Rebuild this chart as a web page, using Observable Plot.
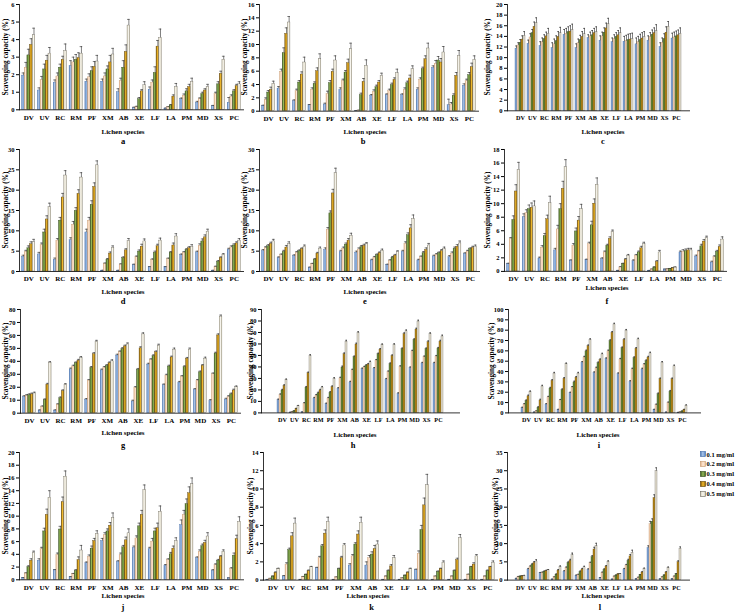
<!DOCTYPE html>
<html><head><meta charset="utf-8">
<script src="https://cdn.jsdelivr.net/npm/d3@7"></script>
<script src="https://cdn.jsdelivr.net/npm/@observablehq/plot@0.6"></script>
<style>
body{margin:0;background:#fff;}
#root{position:relative;width:737px;height:612px;overflow:hidden;font-family:"Liberation Serif","Times New Roman",serif;font-weight:bold;color:#000;background:#fff;}
.panel{position:absolute;}
.panel svg{overflow:visible;background:transparent;}
.xl{position:absolute;font-size:7px;transform:translate(-50%,-50%);white-space:nowrap;}
.yl{position:absolute;font-size:7.3px;transform:translate(-50%,-50%) rotate(-90deg);white-space:nowrap;}
.lt{position:absolute;font-size:8.5px;transform:translate(-50%,-50%);}
.leg{position:absolute;left:700px;top:449.5px;font-size:6.5px;line-height:9.8px;}
.leg div{display:flex;align-items:center;white-space:nowrap;}
.leg svg{margin-right:0.5px;}
</style></head><body>
<svg width="0" height="0" style="position:absolute"><defs>
<linearGradient id="g01" x1="0" x2="1" y1="0" y2="0"><stop offset="0" stop-color="#4a78b5"/><stop offset="0.45" stop-color="#abc6ea"/><stop offset="1" stop-color="#4f7fc0"/></linearGradient>
<linearGradient id="g02" x1="0" x2="1" y1="0" y2="0"><stop offset="0" stop-color="#e2ae84"/><stop offset="0.5" stop-color="#fde9d6"/><stop offset="1" stop-color="#eac09c"/></linearGradient>
<linearGradient id="g03" x1="0" x2="1" y1="0" y2="0"><stop offset="0" stop-color="#3a5a1a"/><stop offset="0.5" stop-color="#94b85a"/><stop offset="1" stop-color="#3a5a1a"/></linearGradient>
<linearGradient id="g04" x1="0" x2="1" y1="0" y2="0"><stop offset="0" stop-color="#7a5200"/><stop offset="0.5" stop-color="#f2bb2e"/><stop offset="1" stop-color="#8a5e00"/></linearGradient>
<linearGradient id="g05" x1="0" x2="1" y1="0" y2="0"><stop offset="0" stop-color="#d6d0ba"/><stop offset="0.5" stop-color="#f8f6ef"/><stop offset="1" stop-color="#d0c9b2"/></linearGradient>
</defs></svg>
<div id="root"></div>
<script>
const species = ["DV","UV","RC","RM","PF","XM","AB","XE","LF","LA","PM","MD","XS","PC"];
const concentrations = ["0.1 mg/ml","0.2 mg/ml","0.3 mg/ml","0.4 mg/ml","0.5 mg/ml"];
const panelLetters = ["a","b","c","d","e","f","g","h","i","j","k","l"];
const yMaxima = [6,16,20,30,30,18,80,90,100,20,14,35];
const yTickSteps = [1,2,2,5,5,2,10,10,10,2,2,5];

// panel a
const a1=[1.95,1.1,1.55,2.5,1.6,1.6,1.0,0.1,1.15,0.07,0.6,0.4,0.2,0.4];
const a2=[2.4,1.7,1.9,2.7,1.85,1.9,1.65,0.15,1.55,0.15,0.8,0.6,0.9,0.75];
const a3=[3.1,2.3,2.4,2.85,2.2,2.3,2.4,0.6,2.1,0.25,1.05,0.9,1.45,1.05];
const a4=[3.7,2.8,2.85,2.95,2.45,2.7,3.3,1.05,3.6,0.75,1.3,1.1,2.05,1.35];
const a5=[4.25,3.2,3.35,3.2,2.75,3.15,4.8,1.4,4.1,1.3,1.6,1.3,2.85,1.45];
const aE1=[.15,.15,.15,.3,.15,.15,.2,.05,.15,.03,.07,.08,.05,.3];
const aE2=[.3,.2,.2,.3,.2,.2,.15,.05,.15,.03,.1,.08,.1,.1];
const aE3=[.35,.3,.2,.3,.25,.2,.4,.1,.35,.05,.15,.1,.15,.1];
const aE4=[.35,.3,.2,.3,.3,.4,.4,.1,.35,.1,.15,.1,.15,.1];
const aE5=[.4,.35,.4,.4,.35,.35,.35,.2,.5,.2,.2,.15,.2,.15];
// panel b
const b1=[0.8,3.4,1.5,0.9,1.0,3.2,0.05,2.3,2.4,2.4,3.2,6.5,0.9,3.8];
const b2=[1.7,5.9,3.0,3.2,2.6,4.5,0.1,2.9,3.0,3.2,4.7,7.1,1.0,4.5];
const b3=[2.8,8.7,4.3,4.1,4.2,5.8,2.4,3.6,3.9,4.2,6.3,7.6,2.3,5.4];
const b4=[3.2,11.6,5.5,6.0,5.9,7.2,4.4,4.3,4.7,4.9,7.8,7.3,5.3,6.6];
const b5=[4.1,13.3,7.3,7.8,7.6,9.3,6.8,5.3,5.7,6.3,9.4,8.8,8.3,7.7];
const bE1=[.1,.3,.2,.1,.2,.3,.05,.2,.2,.2,.3,.3,.9,.3];
const bE2=[.3,.4,.3,.3,.4,.3,.05,.3,.3,.3,.3,.5,.3,.3];
const bE3=[.3,.8,.3,.3,.4,.3,.3,.3,.3,.3,.3,.6,.3,.4];
const bE4=[.4,.9,.4,.5,.4,.6,.5,.3,.3,.5,.5,.6,.5,.6];
const bE5=[.4,.9,.8,.8,.7,.9,.9,.4,.6,.5,.8,.9,.8,.6];
// panel c
const c1=[11.7,12.6,12.2,11.8,14.3,11.8,13.7,13.2,12.9,13.0,12.5,13.2,12.0,13.6];
const c2=[12.3,13.8,12.9,12.5,14.5,12.7,14.0,14.0,13.5,13.1,12.9,13.9,12.8,13.8];
const c3=[12.8,14.6,13.5,13.1,14.8,13.3,14.2,14.7,13.9,13.3,13.3,14.3,13.5,14.0];
const c4=[13.4,15.8,14.0,13.9,14.9,13.9,14.6,15.5,14.2,13.4,13.6,14.6,14.7,14.2];
const c5=[14.1,16.5,14.5,14.6,15.2,14.4,14.8,16.3,14.6,13.5,13.9,15.0,15.8,14.5];
const cE1=[.5,.7,.8,1,1,.8,.6,.9,.8,1,1.2,.9,.8,1];
const cE2=[.5,.7,.8,1,1,.8,.8,.8,.8,1.1,1.1,.8,.9,1];
const cE3=[.6,.7,.8,1,1,.9,.9,.9,.8,1.1,1.1,.9,1,1];
const cE4=[.7,.9,.8,1,1.1,1,.9,1,.9,1.1,1.1,1,1.1,1];
const cE5=[.8,1,1,1.1,1.1,1.1,1,1.1,1,1.1,1,1.2,1,1.1];
// panel d
const d1=[3.6,4.2,2.9,7.7,9.6,0.2,0.2,1.6,1.1,1.1,4.0,4.7,0.2,5.3];
const d2=[4.8,6.5,7.6,11.5,12.5,1.9,1.7,3.5,2.8,3.0,4.6,6.3,1.1,5.9];
const d3=[5.7,9.6,12.5,14.9,16.4,2.9,3.3,4.9,4.6,4.6,5.3,7.4,2.4,6.4];
const d4=[6.7,12.8,18.2,19.1,20.8,4.4,5.2,6.1,6.2,6.4,5.7,8.4,3.3,6.9];
const d5=[7.2,15.8,23.6,23.1,26.1,5.8,7.5,7.4,7.6,8.6,6.1,9.8,4.1,7.6];
const dE1=[.4,.5,.4,.6,.8,.1,.1,.2,.1,.1,.3,.3,.1,.4];
const dE2=[.4,.5,.5,.8,.8,.2,.2,.3,.3,.3,.3,.5,.2,.4];
const dE3=[.6,.8,.8,.8,1,.3,.3,.4,.4,.3,.3,.6,.3,.4];
const dE4=[.6,.9,1,1,1,.4,.4,.6,.5,.6,.4,.6,.3,.4];
const dE5=[.7,1,1.2,1.2,1.1,.5,.6,.6,.6,.7,.5,.6,.3,.5];
// panel e
const e1=[5.0,3.3,3.8,0.9,5.3,4.8,4.6,2.7,1.6,4.8,2.7,3.7,3.5,4.3];
const e2=[5.7,4.0,4.6,1.8,10.3,5.6,5.4,3.4,2.6,6.8,3.5,4.1,4.4,4.9];
const e3=[6.2,4.8,5.0,2.9,14.3,6.6,6.0,4.0,3.4,8.9,4.5,4.5,5.6,5.5];
const e4=[6.8,5.9,5.5,4.4,19.2,7.6,6.3,4.5,3.9,10.6,5.3,5.0,6.1,5.8];
const e5=[7.4,6.7,6.1,5.6,24.2,8.8,6.7,5.1,4.8,12.9,6.4,5.5,6.9,6.1];
const eE1=[.4,.3,.3,.2,.5,.4,.4,.3,.2,.4,.3,.3,.4,.3];
const eE2=[.4,.3,.3,.2,.5,.4,.4,.3,.3,.5,.3,.3,.4,.3];
const eE3=[.4,.4,.3,.3,.6,.4,.4,.3,.3,.6,.4,.3,.4,.3];
const eE4=[.4,.5,.3,.3,1,.5,.4,.3,.3,.9,.5,.4,.5,.4];
const eE5=[.5,.6,.4,.4,1.2,.6,.4,.4,.3,1,.5,.5,.6,.4];
// panel f
const f1=[1.1,8.0,1.9,3.1,1.6,1.7,1.8,0.1,1.5,0.1,0.3,2.8,2.2,1.3];
const f2=[4.8,8.6,3.5,6.2,3.8,4.0,2.8,0.6,2.3,0.3,0.35,2.9,2.9,2.1];
const f3=[7.6,9.2,5.2,9.2,5.9,6.8,3.8,1.1,2.8,0.6,0.4,3.0,3.7,2.9];
const f4=[11.8,9.4,7.7,12.2,7.5,10.0,4.8,1.7,3.4,1.4,0.5,3.1,4.4,3.6];
const f5=[15.0,9.6,10.1,15.4,9.2,12.8,5.8,2.3,4.0,2.8,0.6,3.1,4.9,4.7];
const fE1=[.1,.5,.2,.3,.1,.1,.2,.05,.2,.05,.03,.2,.2,.2];
const fE2=[.2,.5,.3,.6,.3,.3,.2,.1,.2,.05,.03,.3,.2,.2];
const fE3=[.6,.6,.4,.8,.5,.6,.2,.1,.2,.05,.03,.3,.3,.2];
const fE4=[1,.7,.6,1.1,.6,.7,.3,.2,.3,.2,.05,.3,.3,.3];
const fE5=[1.1,.8,1,1.1,.7,1,.3,.2,.3,.3,.05,.3,.3,.4];
// panel g
const g1=[12.5,2.0,2.0,33.8,10.3,33.0,44.5,9.0,37.5,21.5,23.5,18.0,9.5,10.5];
const g2=[13.3,4.8,6.5,36.0,25.0,35.0,47.0,19.5,41.0,29.0,28.0,25.0,30.0,12.5];
const g3=[13.9,10.0,11.5,38.5,35.0,36.5,49.5,33.5,44.0,36.0,35.5,31.5,46.0,14.5];
const g4=[14.5,22.0,17.0,40.5,45.5,38.5,51.5,50.0,47.0,43.0,42.0,36.5,60.0,17.5];
const g5=[15.2,38.8,21.8,42.5,55.0,40.0,53.0,60.8,52.0,49.0,49.0,42.0,74.5,20.0];
const gE1=[1,.6,.6,1,1,1,1,1,1,1,1,1,1,1];
const gE2=[1,.8,.8,1,1,1,1,1,1,1,1,1,1,1];
const gE3=[1,1,1,1,1,1,1,1,1,1,1,1,1,1];
const gE4=[1,1,1,1,1.2,1,1,1.2,1,1,1,1,1.2,1];
const gE5=[1,1,1,1.2,1.2,1.2,1.2,1.2,1.2,1.2,1.2,1.2,1.2,1];
// panel h
const h1=[11.0,0.3,0.5,12.5,7.5,21.0,26.5,38.0,38.5,29.0,16.5,39.0,43.0,43.0];
const h2=[15.5,0.8,8.0,15.0,12.5,30.0,37.0,39.5,45.5,35.5,40.0,53.5,48.5,49.0];
const h3=[19.5,1.5,22.0,17.0,17.5,39.5,48.5,41.0,51.0,42.5,55.5,63.5,55.5,56.0];
const h4=[23.5,3.5,34.5,19.5,22.5,51.0,59.5,42.0,55.0,49.5,68.5,72.5,61.5,62.0];
const h5=[28.5,6.0,49.5,22.0,29.5,62.0,69.5,44.0,59.0,59.0,71.0,79.5,68.5,66.5];
const hE1=[1,.3,.3,1,1,1,1,1,1,1,1,1,1,1];
const hE2=[1,.3,1,1,1,1,1,1,1,1,1,1,1,1];
const hE3=[1,.3,1,1,1,1.2,1,1,1,1,1,1,1,1];
const hE4=[1,.5,1,1,1,1.2,1.2,1,1,1,1.2,1.2,1.2,1.2];
const hE5=[1,.5,1.2,1,1.2,1.2,1.2,1,1,1.2,1.2,1.2,1.2,1.2];
// panel i
const i1=[4.5,0.5,8.0,3.0,19.0,48.5,38.5,52.0,37.5,30.0,42.0,3.0,0.5,0.3];
const i2=[8.0,1.5,15.0,12.0,24.5,53.5,43.0,59.5,51.5,42.0,46.5,7.5,9.5,0.8];
const i3=[11.5,5.0,23.5,22.0,29.5,59.5,48.0,69.5,62.5,53.0,50.0,18.0,20.5,1.5];
const i4=[16.0,12.0,31.0,33.0,34.0,64.5,51.0,77.5,70.5,62.0,53.5,32.5,32.5,3.0];
const i5=[20.0,25.5,38.0,47.0,38.0,70.5,56.5,85.5,79.5,71.0,57.5,48.5,45.0,7.0];
const iE1=[1,.3,1,.5,1,1.2,1.2,1.2,1.2,1.2,1.2,.5,.3,.2];
const iE2=[1,.5,1,1,1,1.2,1.2,1.2,1.2,1.2,1.2,1,1,.2];
const iE3=[1,1,1.2,1.2,1.2,1.2,1.2,1.2,1.2,1.2,1.2,1.2,1.2,.3];
const iE4=[1.2,1.2,1.2,1.2,1.2,1.2,1.2,1.2,1.2,1.2,1.2,1.2,1.2,.5];
const iE5=[1.2,1.2,1.2,1.2,1.2,1.2,1.2,1.2,1.2,1.2,1.2,1.2,1.2,.8];
// panel j
const j1=[0.3,3.0,1.5,0.4,2.6,6.1,2.8,5.0,4.8,2.2,8.6,3.4,1.4,0.25];
const j2=[1.0,4.8,3.9,0.9,3.6,7.0,3.9,6.5,6.0,3.1,10.2,4.4,2.3,1.7];
const j3=[2.0,7.6,7.9,1.4,4.9,7.6,5.1,8.4,7.6,4.0,11.9,5.3,3.0,3.8];
const j4=[3.0,10.2,12.2,3.1,6.1,8.5,6.2,10.2,8.1,4.9,13.6,5.8,3.6,6.4];
const j5=[4.2,12.9,16.2,4.6,7.2,9.7,7.3,14.1,10.7,6.1,15.0,6.8,4.4,9.1];
const jE1=[.05,.3,.1,.1,.2,.4,.2,.3,.3,.2,.8,.2,.2,.05];
const jE2=[.1,.3,.3,.1,.3,.4,.3,.4,.5,.2,.7,.3,.2,.2];
const jE3=[.2,.5,.5,.2,.4,.4,.3,.5,.5,.3,.8,.3,.2,.4];
const jE4=[.3,.9,.8,.5,.4,.5,.5,.7,.8,.4,1,.4,.2,.6];
const jE5=[.3,1.1,.9,.8,.5,.8,.7,.8,.9,.5,1,.6,.3,.8];
// panel k
const k1=[0.05,0.4,0.05,1.3,0.05,1.6,1.6,0.05,0.05,1.1,0.05,0.05,0.05,0.05];
const k2=[0.15,1.7,0.35,2.4,0.3,2.6,2.4,0.4,0.2,2.9,0.4,0.4,0.6,0.4];
const k3=[0.4,3.3,0.6,3.7,1.2,3.9,2.8,1.0,0.5,5.5,0.9,1.0,1.4,1.0];
const k4=[0.8,4.8,1.0,5.1,2.4,5.0,3.4,1.5,0.8,8.2,1.2,2.2,1.7,1.4];
const k5=[1.25,6.2,1.4,6.4,3.8,6.3,3.9,2.4,1.2,10.4,1.9,4.6,2.6,1.9];
const kE1=[.02,.1,.02,.1,.02,.2,.4,.02,.02,.1,.02,.02,.02,.02];
const kE2=[.05,.2,.05,.2,.05,.2,.3,.05,.05,.3,.05,.05,.05,.05];
const kE3=[.05,.2,.05,.2,.1,.2,.3,.1,.05,.5,.1,.1,.1,.1];
const kE4=[.1,.4,.1,.4,.2,.4,.4,.2,.1,.8,.1,.2,.2,.1];
const kE5=[.05,.6,.1,.5,.2,.6,.4,.3,.1,1.2,.2,.4,.2,.2];
// panel l
const l1=[0.4,2.9,1.9,0.2,2.3,1.2,2.8,0.6,0.2,2.9,0.3,8.8,0.3,0.3];
const l2=[0.9,3.6,2.0,0.8,3.3,1.4,4.6,2.0,1.0,4.0,0.7,15.3,0.8,1.0];
const l3=[1.0,4.2,2.3,1.5,4.7,2.2,6.3,2.8,1.3,5.3,1.4,16.0,1.3,1.6];
const l4=[1.1,4.7,2.5,2.6,5.3,2.9,8.4,3.7,1.6,6.5,2.1,22.5,2.1,4.9];
const l5=[1.2,5.1,2.7,3.6,6.8,3.5,9.3,5.0,1.7,7.5,3.1,29.9,3.3,8.6];
const lE1=[.1,.3,.2,.05,.3,.2,.3,.1,.05,.3,.05,.6,.05,.05];
const lE2=[.1,.3,.2,.1,.3,.2,.3,.2,.1,.3,.1,.8,.1,.1];
const lE3=[.1,.3,.2,.2,.3,.3,.4,.3,.1,.4,.1,.8,.1,.2];
const lE4=[.1,.4,.2,.3,.4,.3,.6,.3,.1,.5,.2,.9,.2,.4];
const lE5=[.1,.5,.2,.3,.6,.3,.8,.3,.1,.7,.2,.9,.3,.5];

const values = [[a1,a2,a3,a4,a5],[b1,b2,b3,b4,b5],[c1,c2,c3,c4,c5],[d1,d2,d3,d4,d5],[e1,e2,e3,e4,e5],[f1,f2,f3,f4,f5],
  [g1,g2,g3,g4,g5],[h1,h2,h3,h4,h5],[i1,i2,i3,i4,i5],[j1,j2,j3,j4,j5],[k1,k2,k3,k4,k5],[l1,l2,l3,l4,l5]];
const errors = [[aE1,aE2,aE3,aE4,aE5],[bE1,bE2,bE3,bE4,bE5],[cE1,cE2,cE3,cE4,cE5],[dE1,dE2,dE3,dE4,dE5],[eE1,eE2,eE3,eE4,eE5],[fE1,fE2,fE3,fE4,fE5],
  [gE1,gE2,gE3,gE4,gE5],[hE1,hE2,hE3,hE4,hE5],[iE1,iE2,iE3,iE4,iE5],[jE1,jE2,jE3,jE4,jE5],[kE1,kE2,kE3,kE4,kE5],[lE1,lE2,lE3,lE4,lE5]];

// layout (frame edges in page pixels) and label positions
const layout = [
 {L:19,R:243,T:4,B:109.3, yl:5, xl:[123,131.5], lt:[123,141]},
 {L:259,R:478,T:4,B:110.7, yl:244, xl:[365,131.5], lt:[363,141]},
 {L:507,R:689,T:4,B:110.3, yl:487, xl:[603,131.5], lt:[603,141]},
 {L:19,R:243,T:148.7,B:270.7, yl:5, xl:[123,291.5], lt:[123,300.8]},
 {L:259,R:479,T:148.7,B:270.7, yl:244, xl:[365,292], lt:[365,301.3]},
 {L:504,R:726,T:148.8,B:270.7, yl:487, xl:[607,288], lt:[607,300.5]},
 {L:20,R:240,T:309,B:412.7, yl:5, xl:[123,433], lt:[123,445]},
 {L:261,R:459,T:309.3,B:412.7, yl:250, xl:[355,434.5], lt:[353,444.5]},
 {L:508,R:700,T:309.3,B:412.7, yl:491, xl:[598,434.5], lt:[599,444.5]},
 {L:19,R:243,T:452,B:579.3, yl:5, xl:[123,596.3], lt:[123,606.5]},
 {L:263,R:497,T:451.7,B:579.3, yl:250, xl:[368,595.7], lt:[371.7,606.5]},
 {L:507,R:689,T:451.7,B:579.3, yl:495, xl:[603,595.7], lt:[600,606.5]}
];

const fills = ["url(#g01)","url(#g02)","url(#g03)","url(#g04)","url(#g05)"];
const strokes = ["#3d68a6","#c4976c","#2c4414","#5e4000","#6a665a"];
const fillOf = Object.fromEntries(concentrations.map((c,j)=>[c,fills[j]]));
const strokeOf = Object.fromEntries(concentrations.map((c,j)=>[c,strokes[j]]));

const root = document.getElementById("root");
// one spacer band before each species group, plus a closing spacer
const xDomain = species.flatMap(s=>[s+"|<", ...concentrations.map(c=>s+"|"+c)]).concat(["end|>"]);
const xTicks = species.map(s=>s+"|"+concentrations[2]);

function addText(cls, text, x, y){
  const el = document.createElement("div");
  el.className = cls; el.textContent = text;
  el.style.left = x+"px"; el.style.top = y+"px";
  root.appendChild(el);
}

panelLetters.forEach((letter, p) => {
  const lay = layout[p];
  const rows = species.flatMap((s,i)=>concentrations.map((c,j)=>({
    species:s, conc:c, key:s+"|"+c, value:values[p][j][i], err:errors[p][j][i]
  })));
  const yTicks = Array.from({length: Math.round(yMaxima[p]/yTickSteps[p]) + 1}, (_, t) => t * yTickSteps[p]);
  const groupStep = (lay.R - lay.L) / species.length;
  const catFont = groupStep < 14.5 ? 6.2 : 7;
  const mL = 22, mR = 3, mT = 5, mB = 14;
  const chart = Plot.plot({
    width: lay.R - lay.L + mL + mR,
    height: lay.B - lay.T + mT + mB,
    marginLeft: mL, marginRight: mR, marginTop: mT, marginBottom: mB,
    style: {background:"transparent", overflow:"visible", fontFamily:"'Liberation Serif','Times New Roman',serif", fontWeight:"bold", fontSize:"6.5px", color:"#000"},
    x: {domain: xDomain, padding: 0},
    y: {domain: [0, yMaxima[p]]},
    marks: [
      Plot.barY(rows, {x:"key", y:"value", fill: d=>fillOf[d.conc], stroke: d=>strokeOf[d.conc], strokeWidth:0.35}),
      Plot.ruleX(rows, {x:"key", y1:"value", y2:d=>d.value+d.err, stroke:"#2a2a2a", strokeWidth:0.6}),
      Plot.tickY(rows, {x:"key", y:d=>d.value+d.err, stroke:"#2a2a2a", strokeWidth:0.6}),
      Plot.axisY(yTicks, {tickSize:3, tickPadding:2, label:null, fontSize:6.5}),
      Plot.axisX(xTicks, {tickSize:0, tickPadding:5, tickFormat:k=>k.split("|")[0], label:null, fontSize:catFont}),
      Plot.frame({anchor:"left", stroke:"#000", strokeWidth:0.8}),
      Plot.frame({anchor:"bottom", stroke:"#000", strokeWidth:0.8})
    ]
  });
  const div = document.createElement("div");
  div.className = "panel";
  div.style.left = (lay.L - mL)+"px";
  div.style.top = (lay.T - mT)+"px";
  div.appendChild(chart);
  root.appendChild(div);
  addText("yl", "Scavenging capacity (%)", lay.yl, (lay.T+lay.B)/2);
  addText("xl", "Lichen species", lay.xl[0], lay.xl[1]);
  addText("lt", letter, lay.lt[0], lay.lt[1]);
});

// legend
const leg = document.createElement("div");
leg.className = "leg";
concentrations.forEach((c,j)=>{
  const row = document.createElement("div");
  row.innerHTML = `<svg width="6" height="6"><rect x="0.5" y="0.5" width="5" height="5" fill="${fills[j]}" stroke="${strokes[j]}" stroke-width="0.6"/></svg><span>${c}</span>`;
  leg.appendChild(row);
});
root.appendChild(leg);
</script>
</body></html>
